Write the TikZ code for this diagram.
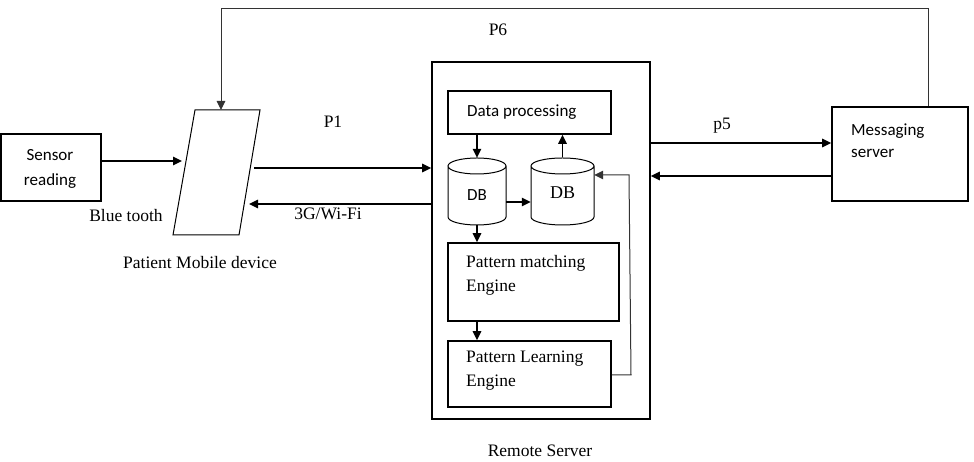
\documentclass[tikz,border=0pt]{standalone}
\usepackage{fontspec}
\setmainfont{Liberation Serif}
\newfontfamily\calfont{Carlito}
\usetikzlibrary{arrows.meta}
\begin{document}
\begin{tikzpicture}[x=1pt,y=1pt,
  box/.style={draw=black,line width=1.6pt,inner sep=0pt},
  conn/.style={line width=1.5pt,-{Triangle[length=9pt,width=8.5pt]}},
  thin/.style={line width=1pt,draw=black!80,-{Triangle[length=9pt,width=8.5pt]}},
  serif/.style={font=\fontsize{17.5}{24}\selectfont,inner sep=0pt},
  sans/.style={font=\calfont\fontsize{17}{22}\selectfont,inner sep=0pt},
  cyl/.style={draw=none,minimum width=#1,minimum height=67pt,inner sep=0pt}
]
\useasboundingbox (0,0) rectangle (974,462);

% Sensor box
\node[box,minimum width=100pt,minimum height=67pt] (sensor) at (51,294.5) {};
\node[sans,align=center,font=\calfont\fontsize{17}{25}\selectfont] (sensortxt) at (50,293) {Sensor\\reading};

% Mobile device parallelogram
\coordinate (m1) at (195,352);
\coordinate (m2) at (260,352);
\coordinate (m3) at (239,227);
\coordinate (m4) at (173,227);
\draw[line width=1pt] (m1) -- (m2) -- (m3) -- (m4) -- cycle;
\coordinate (mtop) at (221,352);
\coordinate (min) at (182,301);
\coordinate (mout) at (254,294);
\coordinate (mback) at (249,258);

% Remote server
\node[box,minimum width=218pt,minimum height=357pt] (remote) at (541,221.5) {};
\node[box,minimum width=163pt,minimum height=43pt] (dp) at (529.5,349.5) {};
\node[sans,anchor=base west] (dptxt) at (467,345) {Data processing};

% DB cylinders
\node[cyl=58pt] (db1) at (477,270.5) {};
\node[cyl=63pt] (db2) at (562.5,271) {};
\draw[line width=1pt] (448,296) -- (448,245) arc[start angle=180,end angle=360,x radius=29,y radius=8] -- (506,296)
  arc[start angle=0,end angle=360,x radius=29,y radius=8];
\draw[line width=1pt] (531,296) -- (531,245) arc[start angle=180,end angle=360,x radius=31.5,y radius=8] -- (594,296)
  arc[start angle=0,end angle=360,x radius=31.5,y radius=8];
\node[sans] (db1txt) at (477,267) {DB};
\node[serif,font=\fontsize{18}{24}\selectfont] (db2txt) at (562.5,269) {DB};

\node[box,minimum width=171pt,minimum height=78pt] (pm) at (533.5,180) {};
\node[serif,anchor=base west,align=left] (pmtxt) at (466,170) {Pattern matching\\Engine};
\node[box,minimum width=163pt,minimum height=66pt] (pl) at (529.5,88) {};
\node[serif,anchor=base west,align=left] (pltxt) at (466,75) {Pattern Learning\\Engine};

% Messaging server
\node[box,minimum width=136pt,minimum height=94pt] (msg) at (900,308) {};
\node[sans,anchor=base west,align=left] (msgtxt) at (851,304) {Messaging\\server};

% Labels
\node[serif] (bt) at (126,246) {Blue tooth};
\node[serif] (pmd) at (200,199) {Patient Mobile device};
\node[serif] (p1) at (333,340) {P1};
\node[serif] (g3) at (328,248) {3G/Wi-Fi};
\node[serif] (p6) at (498,432) {P6};
\node[serif] (p5) at (722,336) {p5};
\node[serif] (rs) at (540,11) {Remote Server};

% Connectors
\draw[conn] (sensor.east |- min) -- (min);
\draw[conn] (mout) -- (remote.west |- mout);
\draw[conn] (remote.west |- mback) -- (mback);
\draw[conn] (remote.east |- 0,319) -- (msg.west |- 0,319);
\draw[conn] (msg.west |- 0,286) -- (remote.east |- 0,286);
\draw[thin] (msg.north -| 928,0) -- (928,453) -- (221,453) -- (mtop);

\draw[conn] (dp.south -| db1) -- (db1.north);
\draw[conn] (db2.north) -- (dp.south -| db2);
\draw[conn] (db1.east |- 0,260) -- (db2.west |- 0,260);
\draw[conn] (db1.south) -- (pm.north -| db1);
\draw[conn] (pm.south -| db1) -- (pl.north -| db1);
\draw[thin] (pl.east |- 0,87) -- (631,87) -- (629,287) -- (db2.east |- 0,287);
\end{tikzpicture}
\end{document}
